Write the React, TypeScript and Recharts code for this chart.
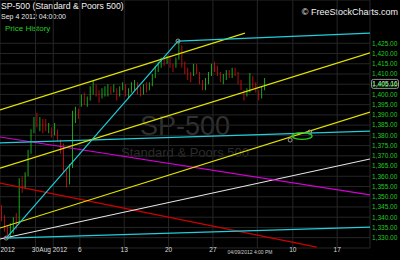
import React from 'react';
import { ComposedChart, Bar, Line, XAxis, YAxis, CartesianGrid, Cell, ReferenceDot } from 'recharts';

// trading-day index: 0 = Jul 30 2012, three bars per day starting Jul 24
const firstDay = -4;

const barLow = [
  1338, 1333, 1330, 1330, 1332, 1334, 1337, 1352, 1354, 1360, 1371, 1381,
  1384, 1382, 1381, 1382, 1381, 1379, 1380, 1377, 1371, 1362, 1354.5, 1356,
  1364, 1386, 1388, 1394, 1395, 1394, 1397, 1400, 1399, 1396, 1398, 1399,
  1399, 1400, 1401, 1397, 1399, 1402, 1399, 1398, 1401, 1402, 1400, 1399,
  1400, 1401, 1402, 1404, 1408, 1411, 1413, 1414, 1415, 1413, 1411, 1413,
  1417, 1413, 1410, 1407, 1406, 1409, 1410, 1405, 1402, 1402, 1405, 1409,
  1411, 1409, 1406, 1405, 1407, 1408, 1408, 1409, 1405, 1402, 1397, 1399,
  1401, 1403, 1401, 1397, 1398, 1402,
];
const barHigh = [
  1346, 1341, 1336, 1337, 1340, 1342, 1359, 1360, 1362, 1373, 1383, 1389,
  1391, 1389, 1388, 1388, 1386, 1384, 1386, 1383, 1378, 1376, 1363, 1366,
  1392, 1394, 1393, 1400, 1401, 1399, 1404, 1407, 1405, 1402, 1403, 1404,
  1405, 1404, 1405, 1403, 1404, 1406, 1405, 1403, 1406, 1407, 1406, 1404,
  1405, 1406, 1406, 1410, 1414, 1416, 1418, 1418, 1419, 1418, 1415, 1418,
  1426.5, 1424, 1416, 1413, 1411, 1415, 1415, 1411, 1407, 1408, 1411, 1415,
  1416, 1414, 1411, 1410, 1412, 1412, 1413, 1413, 1411, 1407, 1402, 1403,
  1410.5, 1409, 1406, 1402, 1404, 1408,
];
const barUp = [
  0, 0, 0, 1, 1, 0, 1, 0, 1, 1, 1, 1,
  0, 1, 0, 0, 1, 0, 1, 0, 0, 0, 0, 1,
  1, 1, 0, 1, 0, 1, 1, 1, 0, 0, 1, 1,
  1, 0, 1, 0, 1, 1, 0, 1, 1, 1, 0, 0,
  1, 0, 1, 1, 1, 1, 1, 0, 1, 0, 0, 1,
  1, 0, 0, 0, 0, 1, 0, 0, 0, 1, 1, 1,
  0, 0, 0, 1, 1, 0, 1, 0, 0, 0, 0, 1,
  1, 0, 0, 0, 1, 1,
];

const lastPrice = 1405.16;

const dayTicks = [-4, 0, 2, 5, 10, 15, 20, 25, 29, 34];
const dayLabels = ['2012', '30', 'Aug 2012', '6', '13', '20', '27', '', '10', '17'];
const priceTicks = [
  1330, 1335, 1340, 1345, 1350, 1355, 1360, 1365, 1370, 1375,
  1380, 1385, 1390, 1395, 1400, 1405, 1410, 1415, 1420, 1425,
];

// drawn trend lines, [day, price] anchors
const yellowTop = [{ t: -4, p: 1392.4 }, { t: 23.6, p: 1430.0 }];
const yellowMid = [{ t: -4, p: 1364.0 }, { t: 37.7, p: 1420.3 }];
const yellowLow = [{ t: -4, p: 1334.7 }, { t: 37.7, p: 1391.4 }];
const cyanRise = [{ t: -3.3, p: 1329.8 }, { t: 16.06, p: 1426.1 }];
const cyanTop = [{ t: 16.06, p: 1426.1 }, { t: 37.7, p: 1430.0 }];
const cyanMid = [{ t: -4, p: 1376.3 }, { t: 37.7, p: 1382.1 }];
const cyanLow = [{ t: -3.3, p: 1329.8 }, { t: 37.7, p: 1335.2 }];
const magentaLine = [{ t: -4, p: 1379.2 }, { t: 37.7, p: 1350.9 }];
const whiteLine = [{ t: -4, p: 1329.35 }, { t: 37.7, p: 1368.45 }];
const redLine = [{ t: -4, p: 1356.7 }, { t: 31.7, p: 1325.4 }];

const pivots = [
  { t: -3.3, p: 1329.8 },
  { t: 16.06, p: 1426.1 },
  { t: 28.7, p: 1377.7 },
  { t: 30.9, p: 1381.6 },
];
const circled = { t: 30.04, p: 1379.7 };

const bars = barLow.map((lo, n) => ({
  t: firstDay + Math.floor(n / 3) + ((n % 3) + 0.5) / 3,
  range: [lo, barHigh[n]],
  up: barUp[n] === 1,
}));

const fmt = (v: number) =>
  v.toLocaleString('en-US', { minimumFractionDigits: 2, maximumFractionDigits: 2 });

const XTick = ({ x, y, payload }: any) => {
  const k = dayTicks.indexOf(payload.value);
  const first = k === 0;
  return (
    <text
      x={first ? x + 0.5 : x}
      y={y + 3.5}
      textAnchor={first ? 'start' : 'middle'}
      fill="#dcdcdc"
      fontSize={6.5}
    >
      {dayLabels[k]}
    </text>
  );
};

const PriceTag = ({ cx, cy }: any) => (
  <g>
    <rect x={cx + 1.5} y={cy - 4.5} width={27} height={9} rx={2} fill="#000" stroke="#bdbdbd" strokeWidth={0.8} />
    <text x={cx + 15} y={cy + 2.2} textAnchor="middle" fill="#f0f0f0" fontSize={6.5}>
      {fmt(lastPrice)}
    </text>
  </g>
);

const Ellipse = ({ cx, cy }: any) => (
  <ellipse cx={cx} cy={cy} rx={10} ry={3.4} fill="none" stroke="#22cc22" strokeWidth={1.4} />
);

const trend = (data: { t: number; p: number }[], color: string, key: string) => (
  <Line
    key={key}
    data={data}
    dataKey="p"
    stroke={color}
    strokeWidth={1.2}
    dot={false}
    activeDot={false}
    isAnimationActive={false}
  />
);

const Backdrop = () => (
  <svg width={400} height={260} style={{ position: 'absolute', left: 0, top: 0 }}>
    <rect width={400} height={260} fill="#000" />
    <text x={1} y={9} fill="#f2f2f2" fontSize={8.7}>SP-500 (Standard &amp; Poors 500)</text>
    <text x={1} y={19.3} fill="#e8e8e8" fontSize={7}>Sep 4 2012 04:00:00</text>
    <text x={5} y={30.5} fill="#22d022" fontSize={8}>Price History</text>
    <text x={398} y={15} textAnchor="end" fill="#f2f2f2" fontSize={9}>© FreeStockCharts.com</text>
    <text x={185} y={135} textAnchor="middle" fill="#303030" fontSize={27}>SP-500</text>
    <text x={185} y={157} textAnchor="middle" fill="#2c2c2c" fontSize={13}>Standard &amp; Poors 500</text>
    <text x={250} y={254} textAnchor="middle" fill="#d0d0d0" fontSize={5}>04/09/2012 4:00 PM</text>
  </svg>
);

export default function App() {
  return (
    <div
      style={{
        position: 'absolute',
        left: 0,
        top: 0,
        width: 400,
        height: 260,
        overflow: 'hidden',
        fontFamily: '"Liberation Sans", Arial, sans-serif',
      }}
    >
      <Backdrop />
      <div style={{ position: 'absolute', left: 0, top: 0 }}>
        <ComposedChart width={400} height={260} data={bars} margin={{ top: 0, right: 0, bottom: 0, left: 0 }}>
          <CartesianGrid stroke="#262626" strokeWidth={1} />
          <XAxis
            dataKey="t"
            type="number"
            domain={[-4, 37.7]}
            ticks={dayTicks}
            interval={0}
            allowDataOverflow
            axisLine={false}
            tickLine={false}
            tickSize={0}
            tickMargin={0}
            height={12}
            tick={<XTick />}
          />
          <YAxis
            type="number"
            orientation="right"
            domain={[1324.95, 1446.16]}
            ticks={priceTicks}
            interval={0}
            allowDataOverflow
            axisLine={false}
            tickLine={false}
            tickSize={0}
            tickMargin={2}
            width={30}
            tickFormatter={fmt}
            tick={{ fill: '#22c822', fontSize: 6.5 }}
          />
          <Bar dataKey="range" barSize={2.5} isAnimationActive={false}>
            {bars.map((b, k) => (
              <Cell key={k} fill={b.up ? '#1fd01f' : '#e01010'} />
            ))}
          </Bar>
          {trend(redLine, '#d00000', 'red')}
          {trend(whiteLine, '#e6e6e6', 'white')}
          {trend(magentaLine, '#d600d6', 'magenta')}
          {trend(cyanLow, '#1ecfdc', 'cyanLow')}
          {trend(cyanMid, '#1ecfdc', 'cyanMid')}
          {trend(yellowLow, '#e2e200', 'yLow')}
          {trend(yellowMid, '#e2e200', 'yMid')}
          {trend(yellowTop, '#e2e200', 'yTop')}
          {trend(cyanRise, '#1ecfdc', 'cyanRise')}
          {trend(cyanTop, '#1ecfdc', 'cyanTop')}
          {pivots.map((d, k) => (
            <ReferenceDot key={k} x={d.t} y={d.p} r={2} fill="none" stroke="#9a9a9a" strokeWidth={1} ifOverflow="visible" />
          ))}
          <ReferenceDot x={circled.t} y={circled.p} shape={<Ellipse />} ifOverflow="visible" />
          <ReferenceDot x={37.7} y={lastPrice} shape={<PriceTag />} ifOverflow="visible" />
        </ComposedChart>
      </div>
    </div>
  );
}
